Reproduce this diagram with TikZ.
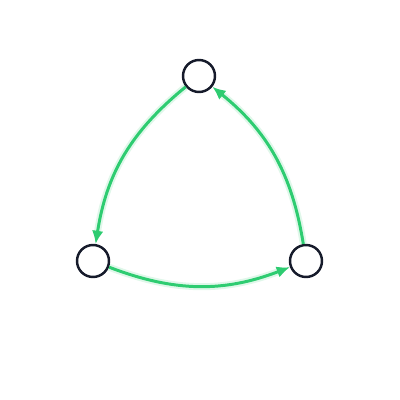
\documentclass[tikz,border=0pt]{standalone}
\usetikzlibrary{arrows.meta}

\definecolor{flowgreen}{HTML}{2ECC71}
\definecolor{ringdark}{HTML}{161B2B}

\tikzstyle{vertex} = [circle, draw=ringdark, line width=1.4pt, fill=white,
    minimum size=0.64cm, inner sep=0pt]
\tikzstyle{flow} = [draw=flowgreen, line width=1.7pt,
    -{Latex[length=7.5pt,width=6.5pt]},
    preaction={draw=flowgreen, line width=4pt, opacity=0.15}]

\begin{document}
\begin{tikzpicture}
	\useasboundingbox (0,0) rectangle (8,8);
	\node [vertex] (top) at (3.98,6.48) {};
	\node [vertex] (left) at (1.86,2.78) {};
	\node [vertex] (right) at (6.12,2.78) {};
	%
	\draw [flow] (top) to [bend right=21] (left);
	\draw [flow] (left) to [bend right=21] (right);
	\draw [flow] (right) to [bend right=21] (top);
\end{tikzpicture}
\end{document}
